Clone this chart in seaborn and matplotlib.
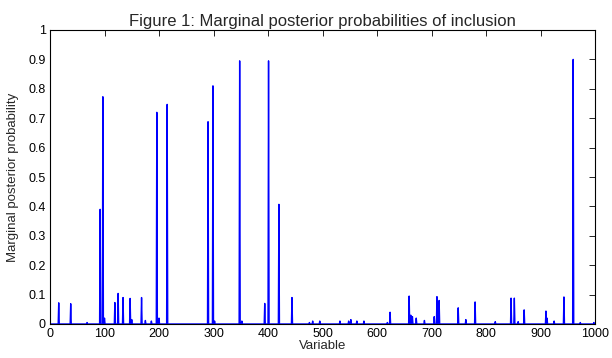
import numpy as np
import pandas as pd
import matplotlib
matplotlib.use("Agg")
import matplotlib.pyplot as plt
import matplotlib.ticker as mticker
import seaborn as sns

# spikes: variable index -> marginal posterior probability
spike_vars = [16, 38, 68, 92, 97, 100, 119, 125, 134, 147, 150, 168, 175, 186,
              196, 200, 215, 290, 299, 302, 348, 352, 394, 401, 420, 444, 476,
              482, 495, 532, 548, 552, 563, 576, 619, 624, 659, 662, 665, 672,
              687, 705, 710, 714, 749, 763, 780, 817, 846, 852, 859, 870, 910,
              912, 925, 943, 960, 973, 998]
spike_vals = [0.072, 0.069, 0.005, 0.39, 0.773, 0.02, 0.073, 0.104, 0.09, 0.087,
              0.015, 0.09, 0.012, 0.01, 0.72, 0.02, 0.747, 0.688, 0.81, 0.01,
              0.895, 0.01, 0.07, 0.895, 0.407, 0.09, 0.005, 0.01, 0.01, 0.01,
              0.01, 0.015, 0.01, 0.01, 0.005, 0.04, 0.095, 0.03, 0.025, 0.02,
              0.012, 0.025, 0.093, 0.08, 0.055, 0.015, 0.075, 0.008, 0.088,
              0.088, 0.008, 0.048, 0.044, 0.02, 0.01, 0.092, 0.90, 0.005, 0.005]

n_vars = 1000
variables = np.arange(1, n_vars + 1)
probs = np.zeros(n_vars)
probs[np.array(spike_vars) - 1] = spike_vals
df = pd.DataFrame({"Variable": variables, "prob": probs})

sns.set_style("white")
plt.rcParams["font.family"] = ["Liberation Sans", "DejaVu Sans"]

fig = plt.figure(figsize=(6.12, 3.58), dpi=100)
ax = fig.add_axes([50 / 612, 1 - 324 / 358, 545 / 612, 294 / 358])

sns.lineplot(data=df, x="Variable", y="prob", color="#0000ff", linewidth=1.0, ax=ax)

ax.set_xlim(0, 1000)
ax.set_ylim(0, 1)
ax.set_xticks(np.arange(0, 1001, 100))
ax.set_yticks(np.arange(0, 1.01, 0.1))
ax.yaxis.set_major_formatter(mticker.FormatStrFormatter("%g"))
ax.tick_params(direction="in", length=4, width=0.6, top=True, right=True,
               labelsize=9, colors="black", pad=3)
for s in ax.spines.values():
    s.set_visible(True)
    s.set_color("black")
    s.set_linewidth(0.8)

ax.set_xlabel("Variable", fontsize=9.5, labelpad=0)
ax.set_ylabel("Marginal posterior probability", fontsize=9.5, labelpad=7)
ax.set_title("Figure 1: Marginal posterior probabilities of inclusion", fontsize=12, pad=3)

fig.savefig("out.png", dpi=100)
